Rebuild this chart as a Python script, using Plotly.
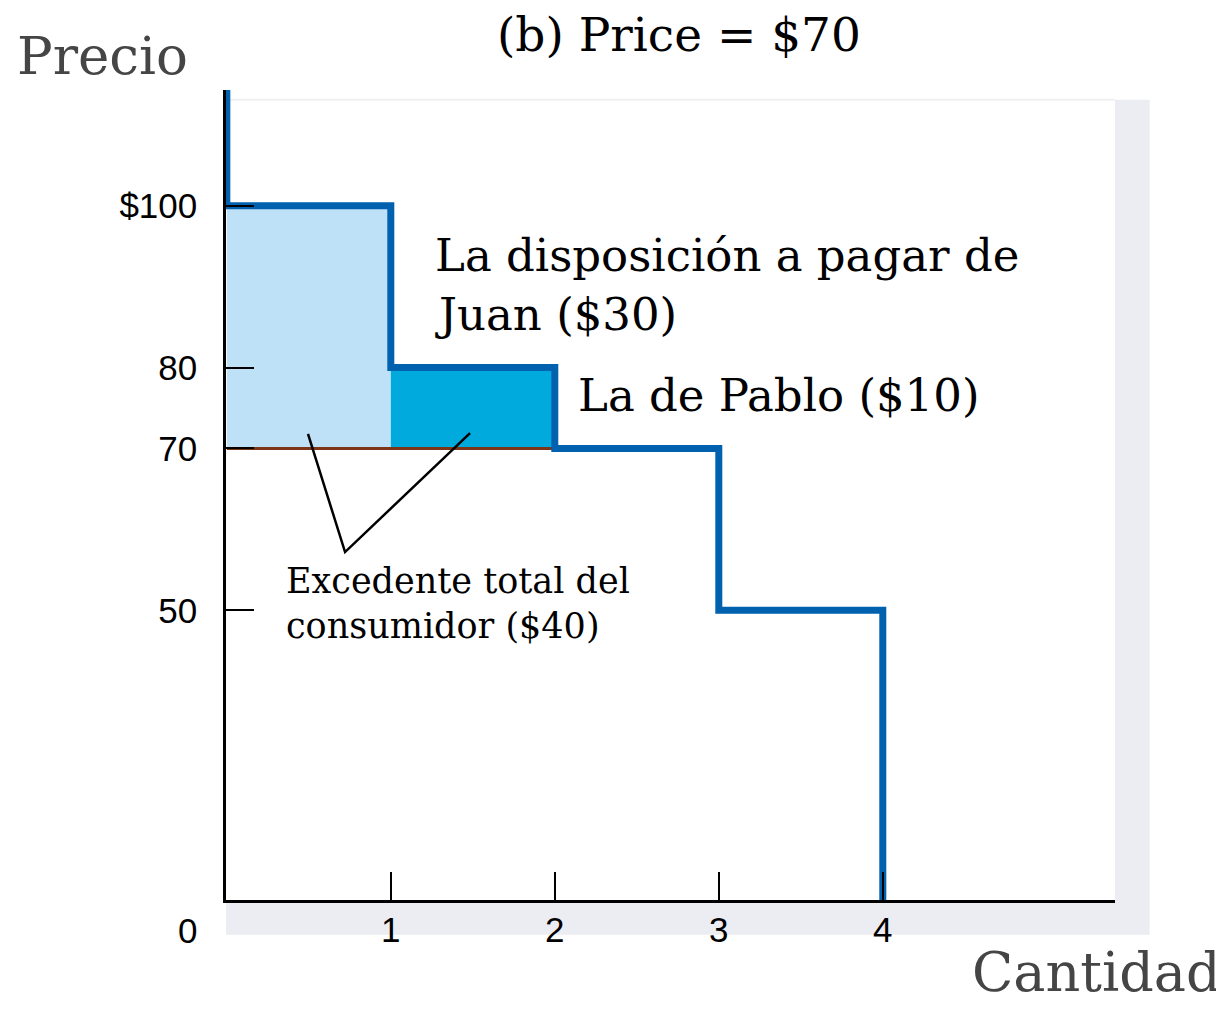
import plotly.graph_objects as go

# demand schedule (willingness to pay per buyer)
quantities = [1, 2, 3, 4]
wtp = [100, 80, 70, 50]
price = 70
y_ticks = [100, 80, 70, 50]
y_tick_text = ["$100", "80", "70", "50"]
x_ticks = [1, 2, 3, 4]

y_lo, y_hi = 14.2, 114.3
x_lo, x_hi = -0.005, 5.416

BLUE = "#0062AF"
LIGHT = "#BFE1F8"
DARK = "#00AADC"
BROWN = "#7E3517"
SERIF = "DejaVu Serif"
SANS = "Liberation Sans"

# step demand curve vertices
step_x = [0]
step_y = [y_hi]
prev_q = 0
for q, p in zip(quantities, wtp):
    step_x += [prev_q, q]
    step_y += [p, p]
    prev_q = q
step_x.append(prev_q)
step_y.append(y_lo)

# consumer surplus for buyers whose wtp is above the price
cs_x = [q - 0.5 for q, p in zip(quantities, wtp) if p > price]
cs_h = [p - price for p in wtp if p > price]
cs_colors = [LIGHT, DARK]

fig = go.Figure()

fig.add_trace(
    go.Bar(
        x=cs_x,
        y=cs_h,
        base=[price] * len(cs_h),
        width=1,
        marker=dict(color=cs_colors, line=dict(width=0)),
        showlegend=False,
        hoverinfo="skip",
    )
)

fig.add_trace(
    go.Scatter(
        x=[0, 2],
        y=[price, price],
        mode="lines",
        line=dict(color=BROWN, width=3),
        showlegend=False,
    )
)

fig.add_trace(
    go.Scatter(
        x=step_x,
        y=step_y,
        mode="lines",
        line=dict(color=BLUE, width=7),
        showlegend=False,
    )
)

# callout lines to the surplus label
callout_x = [0.495, 0.721, 1.483]
callout_y = [71.8, 57.2, 71.9]
fig.add_trace(
    go.Scatter(
        x=callout_x,
        y=callout_y,
        mode="lines",
        line=dict(color="black", width=2.5),
        showlegend=False,
    )
)

# shadow strips around the panel
fig.add_shape(type="rect", xref="paper", yref="paper", x0=1.0, x1=1.039,
              y0=-0.043, y1=0.988, fillcolor="#ECEDF2", line_width=0, layer="below")
fig.add_shape(type="rect", xref="paper", yref="paper", x0=0.0, x1=1.0,
              y0=-0.043, y1=0.0, fillcolor="#ECEDF2", line_width=0, layer="below")
fig.add_shape(type="line", xref="paper", yref="paper", x0=0.0, x1=1.0,
              y0=0.988, y1=0.988, line=dict(color="#F0F0F2", width=2), layer="below")

texts = [
    dict(x=1.26, y=93.8, text="La disposición a pagar de", size=45),
    dict(x=1.26, y=86.6, text="Juan ($30)", size=45),
    dict(x=2.13, y=76.5, text="La de Pablo ($10)", size=45),
    dict(x=0.349, y=53.6, text="Excedente total del", size=35),
    dict(x=0.349, y=48.1, text="consumidor ($40)", size=35),
]
for t in texts:
    fig.add_annotation(
        x=t["x"], y=t["y"], xref="x", yref="y", text=t["text"],
        showarrow=False, xanchor="left", yanchor="middle",
        font=dict(family=SERIF, size=t["size"], color="black"),
    )

fig.add_annotation(x=0.51, y=1.068, xref="paper", yref="paper",
                   text="(b) Price = $70", showarrow=False,
                   xanchor="center", yanchor="middle",
                   font=dict(family=SERIF, size=47, color="black"))
fig.add_annotation(x=-0.237, y=1.043, xref="paper", yref="paper",
                   text="Precio", showarrow=False,
                   xanchor="left", yanchor="middle",
                   font=dict(family=SERIF, size=53, color="#454545"))
fig.add_annotation(x=1.122, y=-0.089, xref="paper", yref="paper",
                   text="Cantidad", showarrow=False,
                   xanchor="right", yanchor="middle",
                   font=dict(family=SERIF, size=54, color="#454545"))
fig.add_annotation(x=-0.043, y=-0.038, xref="paper", yref="paper",
                   text="0", showarrow=False,
                   xanchor="center", yanchor="middle",
                   font=dict(family=SANS, size=35, color="black"))

fig.update_layout(
    width=1224,
    height=1011,
    margin=dict(l=218, r=117, t=82, b=119),
    paper_bgcolor="white",
    plot_bgcolor="white",
    showlegend=False,
    xaxis=dict(
        range=[x_lo, x_hi],
        tickvals=x_ticks,
        ticks="inside",
        ticklen=28,
        tickwidth=2,
        tickcolor="black",
        showline=True,
        linecolor="black",
        linewidth=2.5,
        showgrid=False,
        zeroline=False,
        ticklabelstandoff=-3,
        tickfont=dict(family=SANS, size=35, color="black"),
    ),
    yaxis=dict(
        range=[y_lo, y_hi],
        tickvals=y_ticks,
        ticktext=y_tick_text,
        ticks="inside",
        ticklen=28,
        tickwidth=2,
        tickcolor="black",
        showline=True,
        linecolor="black",
        linewidth=2.5,
        showgrid=False,
        zeroline=False,
        ticklabelstandoff=19,
        tickfont=dict(family=SANS, size=35, color="black"),
    ),
)

fig.write_html("out.html")
